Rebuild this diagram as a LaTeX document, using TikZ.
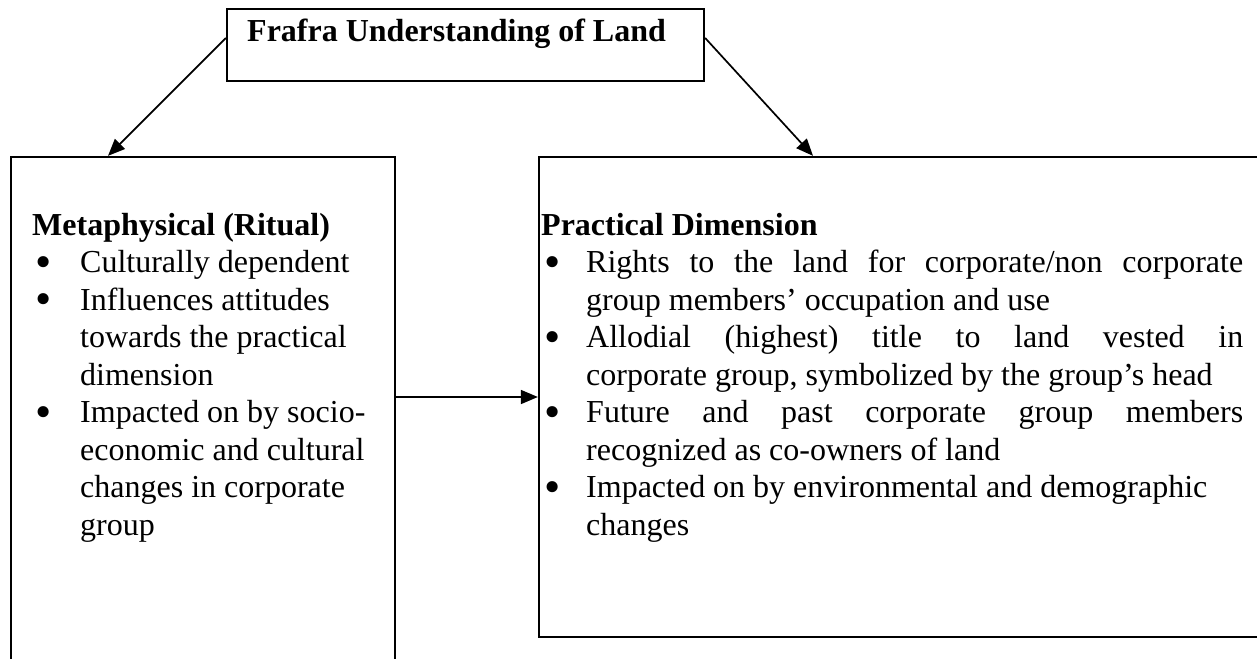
\documentclass[tikz,border=0pt]{standalone}
\usepackage{fontspec}
\usepackage{graphicx}
\setmainfont{Liberation Serif}
\usetikzlibrary{arrows.meta}
\begin{document}
\begin{tikzpicture}[x=1pt,y=-1pt,
  frame/.style={draw, line width=2.3pt, rectangle, inner sep=0pt},
  link/.style={line width=1.7pt, -{Triangle[length=17pt,width=14pt]}},
  txt/.style={anchor=base west, inner sep=0pt, font=\fontsize{32pt}{37.5pt}\selectfont},
  head/.style={txt, font=\fontsize{32pt}{37.5pt}\selectfont\bfseries}]
% bullet mark followed by the hanging indent
\newcommand{\bul}[1]{\makebox[#1][l]{\hspace{3pt}\smash{\raisebox{-4.5pt}{\scalebox{1.45}{\textbullet}}}}}
\useasboundingbox (0,0) rectangle (1257,658);
\clip (0,0) rectangle (1257,658);

% boxes
\node[frame, minimum width=477pt, minimum height=72pt] (top) at (465.5,45) {};
\node[frame, minimum width=384pt, minimum height=546pt] (left) at (203,430) {};
\node[frame, minimum width=761pt, minimum height=480pt] (right) at (919.5,397) {};

% title
\node[head] (title) at (247,42) {Frafra Understanding of Land};

% metaphysical side
\node[head] (l0) at (32,235) {Metaphysical (Ritual)};
\node[txt] (l1) at (32,272.5) {\bul{48pt}Culturally dependent};
\node[txt] (l2) at (32,310) {\bul{48pt}Influences attitudes};
\node[txt] (l3) at (80,347.5) {towards the practical};
\node[txt] (l4) at (80,385) {dimension};
\node[txt] (l5) at (32,422.5) {\bul{48pt}Impacted on by socio-};
\node[txt] (l6) at (80,460) {economic and cultural};
\node[txt] (l7) at (80,497.5) {changes in corporate};
\node[txt] (l8) at (80,535) {group};

% practical side
\node[head] (r0) at (541,235) {Practical Dimension};
\node[txt] (r1) at (541,272.5) {\bul{45pt}\makebox[657pt][s]{Rights to the land for corporate/non corporate}};
\node[txt] (r2) at (586,310) {group members' occupation and use};
\node[txt] (r3) at (541,347.5) {\bul{45pt}\makebox[657pt][s]{Allodial (highest) title to land vested in}};
\node[txt] (r4) at (586,385) {corporate group, symbolized by the group's head};
\node[txt] (r5) at (541,422.5) {\bul{45pt}\makebox[657pt][s]{Future and past corporate group members}};
\node[txt] (r6) at (586,460) {recognized as co-owners of land};
\node[txt] (r7) at (541,497.5) {\bul{45pt}Impacted on by environmental and demographic};
\node[txt] (r8) at (586,535) {changes};

% connectors
\draw[link] ([yshift=7pt]top.west) -- ([xshift=-95pt]left.north);
\draw[link] ([yshift=7pt]top.east) -- ([xshift=-106.5pt]right.north);
\draw[link] (left.east |- right.west) -- (right.west);
\end{tikzpicture}
\end{document}
